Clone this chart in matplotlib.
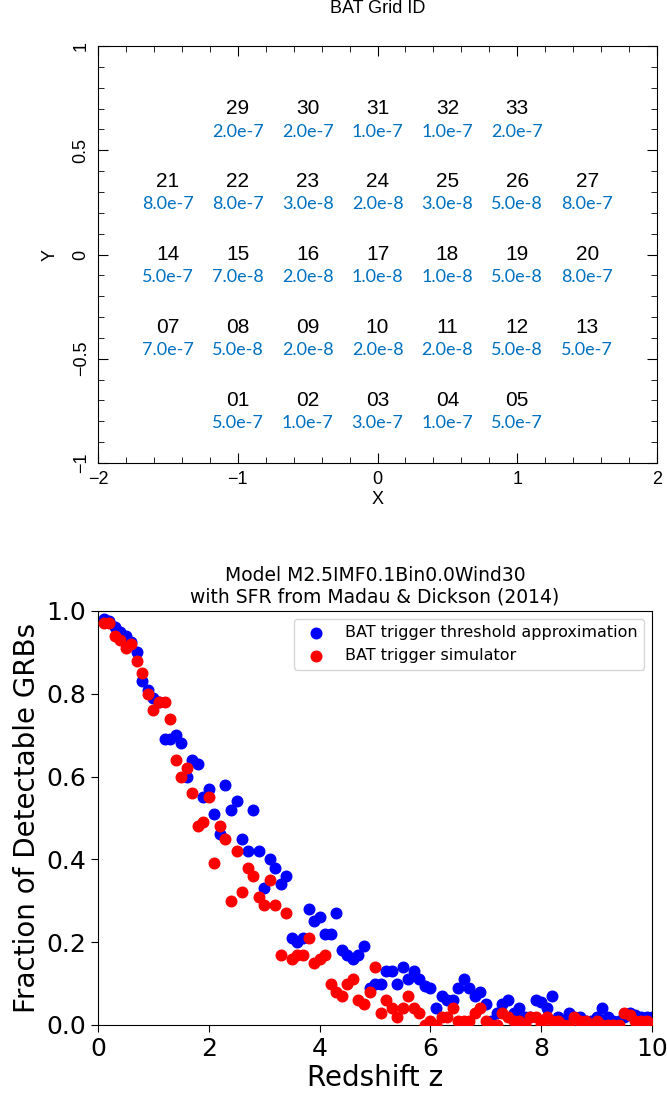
import numpy as np
import matplotlib
matplotlib.use("Agg")
import matplotlib.pyplot as plt
from matplotlib.ticker import MultipleLocator, FuncFormatter

# BAT grid: id labels and threshold values, row by row (top to bottom)
grid_rows = [
    ["29", "30", "31", "32", "33"],
    ["21", "22", "23", "24", "25", "26", "27"],
    ["14", "15", "16", "17", "18", "19", "20"],
    ["07", "08", "09", "10", "11", "12", "13"],
    ["01", "02", "03", "04", "05"],
]
grid_vals = [
    ["2.0e-7", "2.0e-7", "1.0e-7", "1.0e-7", "2.0e-7"],
    ["8.0e-7", "8.0e-7", "3.0e-8", "2.0e-8", "3.0e-8", "5.0e-8", "8.0e-7"],
    ["5.0e-7", "7.0e-8", "2.0e-8", "1.0e-8", "1.0e-8", "5.0e-8", "8.0e-7"],
    ["7.0e-7", "5.0e-8", "2.0e-8", "2.0e-8", "2.0e-8", "5.0e-8", "5.0e-7"],
    ["5.0e-7", "1.0e-7", "3.0e-7", "1.0e-7", "5.0e-7"],
]
row_y = [0.70, 0.35, 0.0, -0.35, -0.70]
row_x0 = [-1.0, -1.5, -1.5, -1.5, -1.0]

# detectable fraction vs redshift
z = np.round(np.arange(1, 101) * 0.1, 1)
frac_approx = [
    0.98, 0.975, 0.96, 0.95, 0.94, 0.925, 0.90, 0.83, 0.81, 0.79,
    0.78, 0.69, 0.69, 0.70, 0.68, 0.60, 0.64, 0.63, 0.55, 0.57,
    0.51, 0.46, 0.58, 0.52, 0.54, 0.45, 0.42, 0.52, 0.42, 0.33,
    0.40, 0.38, 0.34, 0.36, 0.21, 0.20, 0.21, 0.28, 0.25, 0.26,
    0.22, 0.22, 0.27, 0.18, 0.17, 0.16, 0.17, 0.19, 0.09, 0.10,
    0.10, 0.13, 0.13, 0.10, 0.14, 0.11, 0.13, 0.11, 0.095, 0.09,
    0.04, 0.07, 0.06, 0.06, 0.09, 0.11, 0.09, 0.07, 0.08, 0.05,
    0.01, 0.03, 0.05, 0.06, 0.03, 0.04, 0.02, 0.02, 0.06, 0.055,
    0.04, 0.07, 0.02, 0.01, 0.03, 0.02, 0.02, 0.01, 0.01, 0.02,
    0.04, 0.02, 0.01, 0.01, 0.02, 0.03, 0.025, 0.02, 0.02, 0.02,
]
frac_sim = [
    0.97, 0.97, 0.94, 0.93, 0.91, 0.92, 0.88, 0.85, 0.80, 0.76,
    0.78, 0.78, 0.74, 0.64, 0.60, 0.62, 0.56, 0.48, 0.49, 0.55,
    0.39, 0.48, 0.45, 0.30, 0.42, 0.32, 0.38, 0.36, 0.31, 0.29,
    0.35, 0.29, 0.17, 0.27, 0.16, 0.17, 0.17, 0.21, 0.15, 0.16,
    0.17, 0.10, 0.08, 0.07, 0.10, 0.11, 0.06, 0.05, 0.08, 0.14,
    0.03, 0.06, 0.04, 0.02, 0.04, 0.07, 0.04, 0.03, 0.00, 0.01,
    0.00, 0.02, 0.02, 0.04, 0.01, 0.01, 0.01, 0.03, 0.04, 0.01,
    0.00, 0.00, 0.03, 0.02, 0.01, 0.01, 0.00, 0.02, 0.02, 0.00,
    0.02, 0.01, 0.01, 0.00, 0.00, 0.02, 0.01, 0.01, 0.00, 0.01,
    0.00, 0.00, 0.00, 0.00, 0.03, 0.025, 0.01, 0.01, 0.01, 0.00,
]

fig = plt.figure(figsize=(6.67, 10.97), dpi=100)

# ---------------- top panel: grid map ----------------
ax1 = fig.add_axes([0.147, 0.578, 0.838, 0.380])
hel = "Liberation Sans"
for r, (ids, vals) in enumerate(zip(grid_rows, grid_vals)):
    for c, (gid, v) in enumerate(zip(ids, vals)):
        x = row_x0[r] + 0.5 * c
        ax1.text(x, row_y[r], gid, ha="center", va="center",
                 fontsize=15, family=hel, color="black")
        ax1.text(x, row_y[r] - 0.11, v, ha="center", va="center",
                 fontsize=13, family="Lato", color="#0070C0")
ax1.set_xlim(-2, 2)
ax1.set_ylim(-1, 1)
short = FuncFormatter(lambda v, pos: f"{v:g}".replace("-", "\u2212"))
ax1.xaxis.set_major_locator(MultipleLocator(1))
ax1.xaxis.set_minor_locator(MultipleLocator(0.2))
ax1.yaxis.set_major_locator(MultipleLocator(0.5))
ax1.yaxis.set_minor_locator(MultipleLocator(0.1))
ax1.xaxis.set_major_formatter(short)
ax1.yaxis.set_major_formatter(short)
ax1.tick_params(which="both", direction="in", top=True, right=True)
ax1.tick_params(which="major", length=7, labelsize=13, pad=6)
ax1.tick_params(which="minor", length=4)
for lab in ax1.get_xticklabels() + ax1.get_yticklabels():
    lab.set_family(hel)
for lab in ax1.get_yticklabels():
    lab.set_rotation(90)
    lab.set_va("center")
ax1.set_xlabel("X", fontsize=13, family=hel, labelpad=2)
ax1.set_ylabel("Y", fontsize=13, family=hel, labelpad=10)
ax1.set_title("BAT Grid ID", fontsize=13, family=hel, pad=24)

# ---------------- bottom panel: detectable fraction ----------------
ax2 = fig.add_axes([0.147, 0.0657, 0.8306, 0.3774])
ax2.scatter(z, frac_approx, s=58, color="blue", zorder=2,
            label="BAT trigger threshold approximation")
ax2.scatter(z, frac_sim, s=58, color="red", zorder=3,
            label="BAT trigger simulator")
ax2.set_xlim(0, 10)
ax2.set_ylim(0, 1)
ax2.set_xticks([0, 2, 4, 6, 8, 10])
ax2.set_yticks([0.0, 0.2, 0.4, 0.6, 0.8, 1.0])
ax2.tick_params(labelsize=18, length=5)
ax2.set_xlabel("Redshift z", fontsize=20, labelpad=2)
ax2.set_ylabel("Fraction of Detectable GRBs", fontsize=20)
ax2.set_title("Model M2.5IMF0.1Bin0.0Wind30\nwith SFR from Madau & Dickson (2014)",
              fontsize=13.5)
ax2.legend(loc="upper right", fontsize=11.5)

fig.savefig("out.png", dpi=100)
